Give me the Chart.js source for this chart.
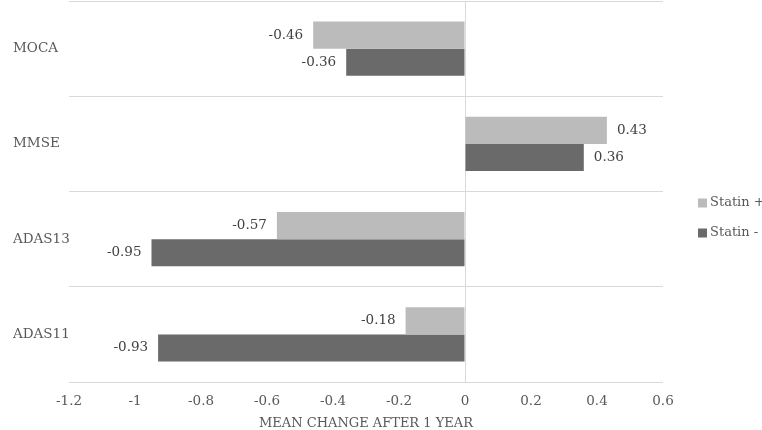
<!DOCTYPE html>
<html>
<head>
<meta charset="utf-8">
<script src="https://cdn.jsdelivr.net/npm/chart.js@4"></script>
<style>
  html, body { margin: 0; padding: 0; background: #fff; }
  #wrap { width: 762px; height: 430px; }
</style>
</head>
<body>
<div id="wrap"><canvas id="myChart"></canvas></div>
<script>
//----DATA----
const categories = ['MOCA', 'MMSE', 'ADAS13', 'ADAS11'];
const statinPlus = [-0.46, 0.43, -0.57, -0.18];
const statinMinus = [-0.36, 0.36, -0.95, -0.93];
const xTicks = [-1.2, -1, -0.8, -0.6, -0.4, -0.2, 0, 0.2, 0.4, 0.6];
const seriesNames = ['Statin +', 'Statin -'];
const seriesColors = ['#bbbbbb', '#6a6a6a'];

const FONT = "'DejaVu Serif', serif";
const SIZE = 13.5;

//----PLUGINS----
const valueLabels = {
    id: 'valueLabels',
    afterDatasetsDraw(chart) {
        const { ctx } = chart;
        ctx.save();
        ctx.font = SIZE + 'px ' + FONT;
        ctx.fillStyle = '#404040';
        ctx.textBaseline = 'middle';
        chart.data.datasets.forEach((ds, i) => {
            chart.getDatasetMeta(i).data.forEach((bar, j) => {
                const v = ds.data[j];
                if (v < 0) {
                    ctx.textAlign = 'right';
                    ctx.fillText(String(v), bar.x - 10, bar.y);
                } else {
                    ctx.textAlign = 'left';
                    ctx.fillText(String(v), bar.x + 10, bar.y);
                }
            });
        });
        ctx.restore();
    }
};

// legend drawn by hand so it sits where the original has it
const sideLegend = {
    id: 'sideLegend',
    afterDraw(chart) {
        const { ctx } = chart;
        const x = 698, mid = chart.height / 2 + 3;
        ctx.save();
        ctx.font = '13px ' + FONT;
        ctx.textBaseline = 'middle';
        ctx.textAlign = 'left';
        chart.data.datasets.forEach((ds, i) => {
            const y = mid + (i - 0.5) * 30;
            ctx.fillStyle = ds.backgroundColor;
            ctx.fillRect(x, y - 4.5, 9, 9);
            ctx.fillStyle = '#595959';
            ctx.fillText(ds.label, x + 12, y);
        });
        ctx.restore();
    }
};

//----CONFIG----
const data = {
    labels: categories,
    datasets: [
        { label: seriesNames[0], data: statinPlus, backgroundColor: seriesColors[0] },
        { label: seriesNames[1], data: statinMinus, backgroundColor: seriesColors[1] }
    ]
};

const config = {
    type: 'bar',
    data,
    options: {
        responsive: true,
        maintainAspectRatio: false,
        animation: false,
        indexAxis: 'y',
        datasets: { bar: { categoryPercentage: 0.57, barPercentage: 1.0 } },
        layout: { padding: { left: 13, right: 99, top: 1, bottom: 0 } },
        scales: {
            x: {
                min: -1.2,
                max: 0.6,
                afterBuildTicks(scale) {
                    scale.ticks = xTicks.map(v => ({ value: v }));
                },
                afterFit(scale) {
                    scale.height = 48;
                    scale.paddingLeft = 0;
                    scale.paddingRight = 0;
                },
                border: { display: false },
                grid: {
                    drawTicks: false,
                    color: c => (c.tick && c.tick.value === 0) ? '#d9d9d9' : 'rgba(0,0,0,0)'
                },
                ticks: {
                    padding: 11,
                    color: '#595959',
                    font: { family: FONT, size: SIZE },
                    callback: v => String(parseFloat(Number(v).toFixed(1)))
                },
                title: {
                    display: true,
                    text: 'MEAN CHANGE AFTER 1 YEAR',
                    color: '#595959',
                    font: { family: FONT, size: 13, lineHeight: 1 },
                    padding: { top: 6, bottom: 0 }
                }
            },
            y: {
                border: { display: false },
                grid: { drawTicks: false, color: '#d9d9d9' },
                afterFit(scale) {
                    scale.width = 56;
                    scale.paddingTop = 0;
                    scale.paddingBottom = 0;
                },
                ticks: {
                    crossAlign: 'far',
                    color: '#595959',
                    font: { family: FONT, size: SIZE }
                }
            }
        },
        plugins: {
            legend: { display: false },
            tooltip: { enabled: false }
        }
    },
    plugins: [valueLabels, sideLegend]
};

const myChart = new Chart(document.getElementById('myChart'), config);
</script>
</body>
</html>
